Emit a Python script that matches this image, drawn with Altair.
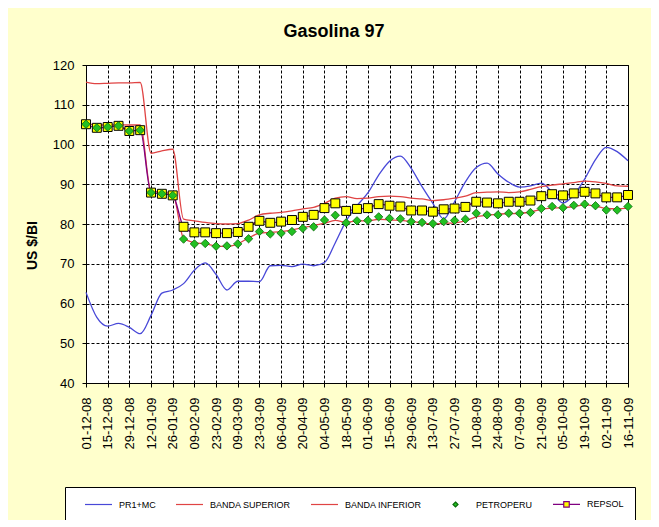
import altair as alt
import pandas as pd

fechas = [
    "01-12-08", "08-12-08", "15-12-08", "22-12-08", "29-12-08", "05-01-09",
    "12-01-09", "19-01-09", "26-01-09", "02-02-09", "09-02-09", "16-02-09",
    "23-02-09", "02-03-09", "09-03-09", "16-03-09", "23-03-09", "30-03-09",
    "06-04-09", "13-04-09", "20-04-09", "27-04-09", "04-05-09", "11-05-09",
    "18-05-09", "25-05-09", "01-06-09", "08-06-09", "15-06-09", "22-06-09",
    "29-06-09", "06-07-09", "13-07-09", "20-07-09", "27-07-09", "03-08-09",
    "10-08-09", "17-08-09", "24-08-09", "31-08-09", "07-09-09", "14-09-09",
    "21-09-09", "28-09-09", "05-10-09", "12-10-09", "19-10-09", "26-10-09",
    "02-11-09", "09-11-09", "16-11-09",
]

etiquetas = [
    "01-12-08", "15-12-08", "29-12-08", "12-01-09", "26-01-09", "09-02-09",
    "23-02-09", "09-03-09", "23-03-09", "06-04-09", "20-04-09", "04-05-09",
    "18-05-09", "01-06-09", "15-06-09", "29-06-09", "13-07-09", "27-07-09",
    "10-08-09", "24-08-09", "07-09-09", "21-09-09", "05-10-09", "19-10-09",
    "02-11-09", "16-11-09",
]

pr1_mc = [
    62.8, 56.5, 54.3, 55.0, 54.0, 52.4, 57.0, 62.6, 63.4, 65.0,
    68.4, 70.2, 67.3, 63.4, 65.6, 65.6, 65.5, 69.5, 69.6, 69.3,
    69.9, 69.5, 70.3, 75.3, 80.8, 84.6, 87.8, 92.3, 95.8, 97.1,
    94.0, 89.4, 85.2, 81.3, 85.6, 90.6, 94.2, 95.3, 92.6, 90.5,
    89.3, 89.6, 90.3, 88.0, 85.3, 87.3, 91.3, 96.2, 99.3, 98.2,
    95.9,
]

banda_superior = [
    115.7, 115.3, 115.4, 115.5, 115.5, 115.6, 97.8, 98.4, 98.8, 81.2,
    80.8, 80.4, 80.1, 80.0, 80.1, 81.0, 82.3, 82.7, 82.9, 83.3,
    83.8, 84.2, 85.2, 86.5, 86.9, 86.4, 86.5, 86.9, 87.0, 86.9,
    86.5, 86.3, 85.9, 86.1, 86.5, 87.0, 87.9, 88.0, 88.1, 87.9,
    88.1, 88.7, 89.4, 89.8, 90.1, 90.4, 90.8, 90.6, 90.2, 89.6,
    89.5,
]

banda_inferior = [
    105.3, 104.9, 104.9, 105.0, 104.9, 104.9, 88.3, 88.0, 87.6, 76.4,
    75.3, 75.0, 74.5, 74.3, 75.0, 76.5, 77.7, 77.9, 78.1, 78.5,
    79.1, 79.6, 80.2, 80.9, 80.4, 80.8, 80.8, 81.2, 81.0, 80.9,
    80.6, 80.3, 80.0, 80.2, 80.3, 80.8, 81.8, 82.2, 82.5, 82.6,
    82.7, 83.0, 83.7, 84.0, 84.1, 84.4, 84.8, 84.5, 83.9, 83.8,
    84.0,
]

petroperu = [
    105.1, 104.2, 104.4, 104.7, 103.4, 103.6, 87.9, 87.6, 87.2, 76.2,
    75.0, 75.1, 74.4, 74.5, 75.0, 76.3, 78.1, 77.5, 77.7, 78.1,
    78.9, 79.3, 81.0, 82.2, 80.3, 80.8, 80.9, 81.8, 81.4, 81.3,
    80.6, 80.4, 80.1, 80.6, 80.9, 81.2, 82.7, 82.3, 82.3, 82.7,
    82.7, 82.9, 83.9, 84.4, 84.1, 84.7, 85.0, 84.6, 83.5, 83.5,
    84.4,
]

repsol = [
    105.1, 104.2, 104.4, 104.7, 103.4, 103.6, 87.9, 87.6, 87.2, 79.3,
    77.9, 77.9, 77.7, 77.7, 78.0, 79.3, 80.8, 80.3, 80.6, 81.0,
    81.8, 82.3, 84.0, 85.2, 83.3, 83.8, 84.0, 85.0, 84.6, 84.4,
    83.4, 83.4, 83.1, 83.7, 83.9, 84.3, 85.6, 85.4, 85.2, 85.6,
    85.6, 85.9, 87.0, 87.5, 87.2, 87.7, 88.1, 87.7, 86.7, 86.7,
    87.3,
]

series = ["PR1+MC", "BANDA SUPERIOR", "BANDA INFERIOR", "PETROPERU", "REPSOL"]
valores_series = [pr1_mc, banda_superior, banda_inferior, petroperu, repsol]

AZUL = "#4848D8"
ROJO = "#E04444"
VERDE = "#22C022"
VERDE_OSC = "#0A6A0A"
MORADO = "#800080"
AMARILLO = "#FFFF00"

rows = []
for nombre, valores in zip(series, valores_series):
    for f, v in zip(fechas, valores):
        rows.append({"fecha": f, "serie": nombre, "valor": v})
df = pd.DataFrame(rows)

FONT = "Liberation Sans"

x_enc = alt.X(
    "fecha:O",
    sort=fechas,
    scale=alt.Scale(type="point", padding=0, domain=fechas),
    axis=alt.Axis(
        values=etiquetas,
        title=None,
        labelAngle=270,
        labelFont=FONT,
        labelFontSize=13,
        labelColor="black",
        labelPadding=10,
        tickSize=4,
        tickColor="black",
        domainColor="black",
        grid=True,
        gridColor="black",
        gridDash=[3, 2],
        gridWidth=1,
        gridOpacity=1,
    ),
)

y_enc = alt.Y(
    "valor:Q",
    scale=alt.Scale(domain=[40, 120], nice=False, zero=False),
    axis=alt.Axis(
        values=list(range(40, 121, 10)),
        title="US $/BI",
        titleFont=FONT,
        titleFontSize=14,
        titleFontWeight="bold",
        titleColor="black",
        titleAngle=270,
        titleAlign="center",
        titleBaseline="middle",
        titleX=-54,
        titleY=180,
        labelFont=FONT,
        labelFontSize=13,
        labelColor="black",
        labelPadding=8,
        tickSize=4,
        tickColor="black",
        domainColor="black",
        grid=True,
        gridColor="black",
        gridDash=[3, 2],
        gridWidth=1,
        gridOpacity=1,
    ),
)

base = alt.Chart(df).encode(x=x_enc, y=y_enc)

lineas = base.transform_filter(
    alt.FieldOneOfPredicate(field="serie", oneOf=["PR1+MC", "BANDA SUPERIOR", "BANDA INFERIOR", "REPSOL"])
).mark_line(interpolate="monotone", strokeWidth=1.3).encode(
    color=alt.Color(
        "serie:N",
        scale=alt.Scale(domain=series, range=[AZUL, ROJO, ROJO, VERDE, MORADO]),
        legend=None,
    )
)

cuadros = base.transform_filter(alt.datum.serie == "REPSOL").mark_point(
    shape="square", filled=True, fill=AMARILLO, stroke="black", strokeWidth=1, size=80, opacity=1
)

rombos = base.transform_filter(alt.datum.serie == "PETROPERU").mark_point(
    shape="diamond", filled=True, fill=VERDE, stroke=VERDE_OSC, strokeWidth=0.8, size=70, opacity=1
)

# legend symbols: unit r = 5px (symbolSize 100); line drawn over 27px
LINEA = "M0.6,0H6"
ROMBO = "M3.3,-0.5L3.8,0L3.3,0.5L2.8,0Z"
REPSOL_SIM = "M0.6,0H2.75M3.85,0H6M2.75,-0.55H3.85V0.55H2.75Z"

def leyenda_def():
    return alt.Legend(
        title=None,
        orient="none",
        legendX=-21,
        legendY=422,
        direction="horizontal",
        symbolSize=100,
        symbolStrokeWidth=1.2,
        symbolOpacity=1,
        labelFont=FONT,
        labelFontSize=9,
        labelColor="black",
        labelOffset=31,
        labelLimit=300,
        columnPadding=11,
        padding=11,
        fillColor="white",
        strokeColor="black",
    )

leyenda = base.transform_filter("false").mark_point(filled=True, opacity=1).encode(
    shape=alt.Shape(
        "serie:N",
        scale=alt.Scale(domain=series, range=[LINEA, LINEA, LINEA, ROMBO, REPSOL_SIM]),
        legend=leyenda_def(),
    ),
    fill=alt.Fill(
        "serie:N",
        scale=alt.Scale(domain=series, range=["transparent", "transparent", "transparent", VERDE, AMARILLO]),
        legend=leyenda_def(),
    ),
    stroke=alt.Stroke(
        "serie:N",
        scale=alt.Scale(domain=series, range=[AZUL, ROJO, ROJO, VERDE_OSC, MORADO]),
        legend=leyenda_def(),
    ),
)

chart = alt.layer(lineas, cuadros, rombos, leyenda).properties(
    width=542,
    height=318,
    title=alt.TitleParams(
        "Gasolina 97",
        font=FONT,
        fontSize=18,
        fontWeight="bold",
        color="black",
        anchor="middle",
        dx=-23,
        offset=18,
    ),
    background="#FFFFCC",
    padding={"left": 78, "top": 57, "right": 23, "bottom": 137},
    autosize=alt.AutoSizeParams(type="none"),
).resolve_scale(
    color="independent"
).configure_view(
    fill="white",
    stroke="black",
    strokeWidth=1,
)

chart.save("out.html", embed_options={"renderer": "svg", "actions": False})
